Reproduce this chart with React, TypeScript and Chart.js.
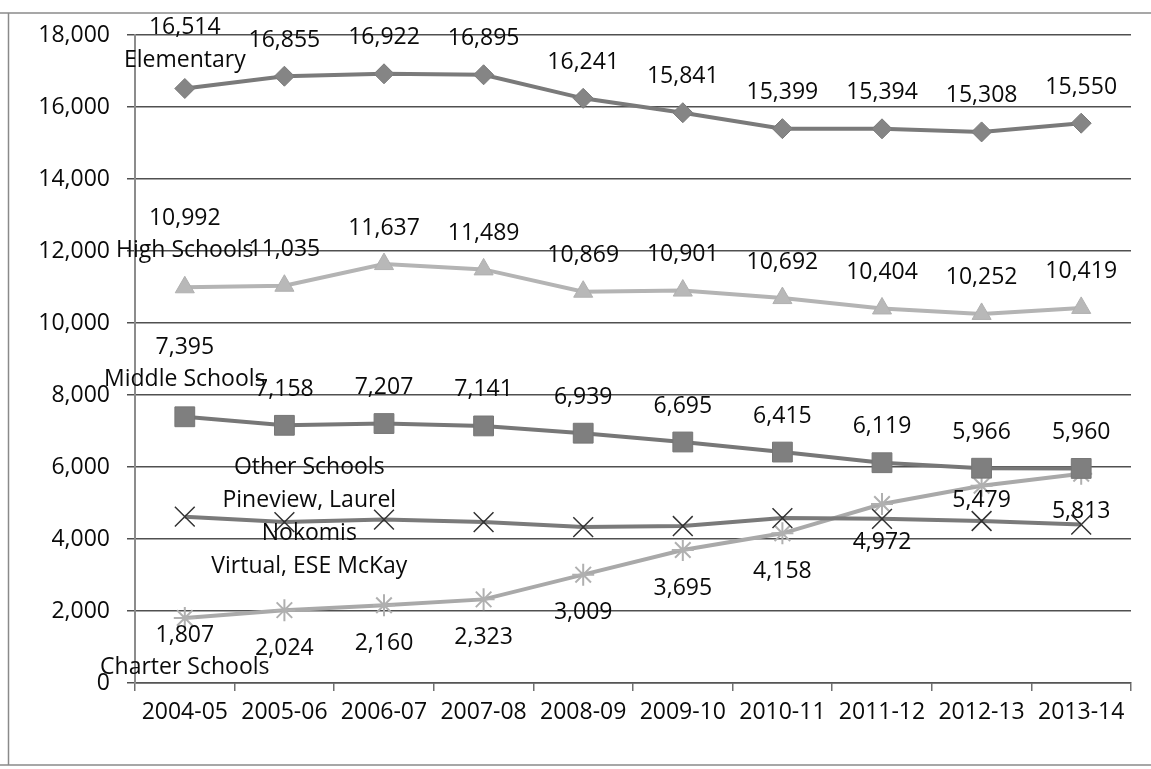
import React, { useEffect, useRef } from "react";
import { Chart, registerables } from "chart.js";

Chart.register(...registerables);

const categories = ["2004-05", "2005-06", "2006-07", "2007-08", "2008-09", "2009-10", "2010-11", "2011-12", "2012-13", "2013-14"];
const elementary = [16514, 16855, 16922, 16895, 16241, 15841, 15399, 15394, 15308, 15550];
const highSchools = [10992, 11035, 11637, 11489, 10869, 10901, 10692, 10404, 10252, 10419];
const middleSchools = [7395, 7158, 7207, 7141, 6939, 6695, 6415, 6119, 5966, 5960];
const otherSchools = [4620, 4470, 4540, 4470, 4330, 4360, 4580, 4560, 4500, 4400];
const charterSchools = [1807, 2024, 2160, 2323, 3009, 3695, 4158, 4972, 5479, 5813];
const otherSchoolsNote = ["Other Schools", "Pineview, Laurel", "Nokomis", "Virtual, ESE McKay"];
const yMin = 0;
const yMax = 18000;
const yStep = 2000;

const FONT_FAMILY = '"Open Sans", "Noto Sans", sans-serif';
const FONT_SIZE = 23;
const TEXT_COLOR = "#0a0a0a";

const fmt = (v: number) => v.toLocaleString("en-US");

const labelPlugin = {
  id: "pointLabels",
  afterDatasetsDraw(chart: any) {
    const ctx = chart.ctx;
    ctx.save();
    ctx.font = `${FONT_SIZE}px ${FONT_FAMILY}`;
    ctx.fillStyle = TEXT_COLOR;
    ctx.textAlign = "center";
    ctx.textBaseline = "middle";
    chart.data.datasets.forEach((ds: any, di: number) => {
      const cfg = ds.labelCfg;
      if (!cfg || !cfg.showValues) return;
      const meta = chart.getDatasetMeta(di);
      meta.data.forEach((pt: any, i: number) => {
        const v = ds.data[i];
        const text = fmt(v);
        if (i === 0 && cfg.name) {
          if (cfg.dir < 0) {
            const ny = pt.y + cfg.firstDy;
            ctx.fillText(cfg.name, pt.x, ny);
            ctx.fillText(text, pt.x, ny - cfg.lineH);
          } else {
            const vy = pt.y + cfg.firstDy;
            ctx.fillText(text, pt.x, vy);
            ctx.fillText(cfg.name, pt.x, vy + cfg.lineH);
          }
          return;
        }
        const dy = cfg.shifts && cfg.shifts[i] !== undefined ? cfg.shifts[i] : cfg.dir * cfg.dist;
        ctx.fillText(text, pt.x, pt.y + dy);
      });
    });

    // free text note for "Other Schools"
    const xs = chart.scales.x;
    const ys = chart.scales.y;
    const nx = xs.getPixelForValue(1.25);
    const ny = ys.getPixelForValue(6000);
    otherSchoolsNote.forEach((line, k) => {
      ctx.fillText(line, nx, ny + k * 33);
    });
    ctx.restore();
  },
  beforeDraw(chart: any) {
    const ctx = chart.ctx;
    ctx.save();
    ctx.fillStyle = "#ffffff";
    ctx.fillRect(0, 0, chart.width, chart.height);
    ctx.strokeStyle = "#8a8a8a";
    ctx.lineWidth = 1.5;
    ctx.beginPath();
    ctx.moveTo(0, 13);
    ctx.lineTo(chart.width, 13);
    ctx.moveTo(8.5, 13);
    ctx.lineTo(8.5, 765);
    ctx.moveTo(0, 765);
    ctx.lineTo(chart.width, 765);
    ctx.stroke();
    ctx.restore();
  },
};

export default function App() {
  const ref = useRef<HTMLCanvasElement | null>(null);

  useEffect(() => {
    if (!ref.current) return;
    const chart = new Chart(ref.current, {
      type: "line",
      data: {
        labels: categories,
        datasets: [
          {
            label: "Elementary",
            data: elementary,
            borderColor: "#7a7a7a",
            borderWidth: 4,
            pointStyle: "rectRot",
            pointRadius: 10,
            pointBackgroundColor: "#858585",
            pointBorderColor: "#7a7a7a",
            pointBorderWidth: 1,
            tension: 0,
            labelCfg: { showValues: true, name: "Elementary", dir: -1, dist: 36, firstDy: -28, lineH: 33 },
          } as any,
          {
            label: "High Schools",
            data: highSchools,
            borderColor: "#b4b4b4",
            borderWidth: 4,
            pointStyle: "triangle",
            pointRadius: 11,
            pointBackgroundColor: "#b8b8b8",
            pointBorderColor: "#b0b0b0",
            pointBorderWidth: 1,
            tension: 0,
            labelCfg: { showValues: true, name: "High Schools", dir: -1, dist: 36, firstDy: -37, lineH: 32 },
          } as any,
          {
            label: "Middle Schools",
            data: middleSchools,
            borderColor: "#777777",
            borderWidth: 4,
            pointStyle: "rect",
            pointRadius: 14,
            pointBackgroundColor: "#7f7f7f",
            pointBorderColor: "#767676",
            pointBorderWidth: 1,
            tension: 0,
            labelCfg: { showValues: true, name: "Middle Schools", dir: -1, dist: 36, firstDy: -37, lineH: 32 },
          } as any,
          {
            label: "Other Schools",
            data: otherSchools,
            borderColor: "#7a7a7a",
            borderWidth: 4,
            pointStyle: "crossRot",
            pointRadius: 14,
            pointBackgroundColor: "#333333",
            pointBorderColor: "#333333",
            pointBorderWidth: 1.5,
            tension: 0,
            labelCfg: { showValues: false },
          } as any,
          {
            label: "Charter Schools",
            data: charterSchools,
            borderColor: "#a9a9a9",
            borderWidth: 4,
            pointStyle: "star",
            pointRadius: 11,
            pointBackgroundColor: "#b0b0b0",
            pointBorderColor: "#b0b0b0",
            pointBorderWidth: 2,
            tension: 0,
            labelCfg: { showValues: true, name: "Charter Schools", dir: 1, dist: 38, firstDy: 18, lineH: 32, shifts: { 8: 15 } },
          } as any,
        ],
      },
      options: {
        responsive: false,
        animation: false,
        devicePixelRatio: 1,
        layout: { padding: { top: 35, right: 20, left: 0, bottom: 0 } },
        plugins: {
          legend: { display: false },
          tooltip: { enabled: false },
          title: { display: false },
        },
        scales: {
          x: {
            type: "category",
            offset: true,
            grid: {
              offset: true,
              drawOnChartArea: false,
              drawTicks: true,
              tickLength: 8,
              color: "#707070",
              lineWidth: 1.5,
            },
            border: { display: true, color: "#555555", width: 1.5 },
            ticks: {
              color: TEXT_COLOR,
              font: { family: FONT_FAMILY, size: FONT_SIZE },
              padding: 8,
              maxRotation: 0,
              autoSkip: false,
            },
            afterFit: (scale: any) => {
              scale.height = 86;
            },
          },
          y: {
            min: yMin,
            max: yMax,
            grid: {
              color: "#505050",
              lineWidth: 1.5,
              drawTicks: true,
              tickLength: 8,
            },
            border: { display: true, color: "#8c8c8c", width: 2 },
            ticks: {
              stepSize: yStep,
              color: TEXT_COLOR,
              font: { family: FONT_FAMILY, size: FONT_SIZE },
              padding: 17,
              callback: (v: any) => fmt(Number(v)),
            },
            afterFit: (scale: any) => {
              scale.width = 135;
            },
          },
        },
      } as any,
      plugins: [labelPlugin],
    });
    return () => chart.destroy();
  }, []);

  return (
    <div style={{ position: "fixed", left: 0, top: 0, width: 1151, height: 769, background: "#fff" }}>
      <canvas ref={ref} width={1151} height={769} style={{ display: "block", width: 1151, height: 769 }} />
    </div>
  );
}
